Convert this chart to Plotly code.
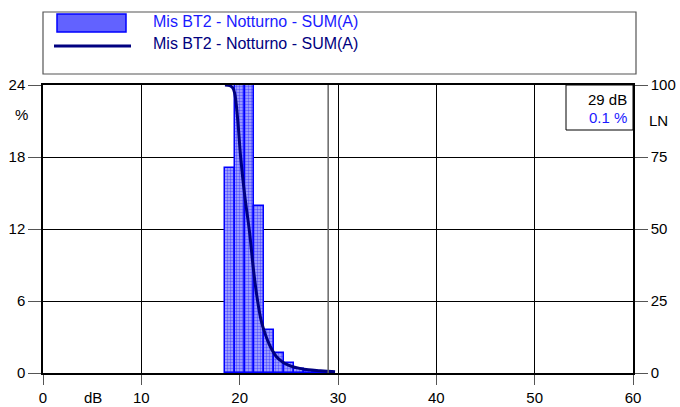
import plotly.graph_objects as go

# ---- data ----
bar_db = [19, 20, 21, 22, 23, 24, 25, 26, 27, 28, 29]
bar_pct = [17.1, 33.0, 29.0, 13.9, 3.6, 1.7, 0.8, 0.35, 0.15, 0.1, 0.05]

curve_db = [18.5, 19.0, 19.3, 19.5, 19.8, 20.1, 20.5, 21.0, 21.4, 21.8, 22.2,
            22.6, 23.0, 23.3, 23.7, 24.2, 24.6, 25.2, 26.1, 27.0, 28.2, 29.0, 29.7]
curve_ln = [100, 99.8, 99, 97, 88, 75, 62, 49, 36, 25.5, 18,
            13.5, 10, 8, 5.8, 4.2, 3.3, 2.4, 1.6, 1.1, 0.8, 0.6, 0.4]

x_ticks = [0, 10, 20, 30, 40, 50, 60]
y_ticks = [0, 6, 12, 18, 24]
y2_ticks = [0, 25, 50, 75, 100]

series_name = "Mis BT2 - Notturno - SUM(A)"
marker_db = 29
marker_pct = "0.1 %"

W, H = 680, 407
L, R, T, B = 43, 47, 85, 34
PW, PH = W - L - R, H - T - B


def px(x):
    return (x - L) / PW


def py(y):
    return (H - B - y) / PH


FONT = "Liberation Sans, Arial, sans-serif"
TF = 15
LF = 16

fig = go.Figure()
fig.add_bar(
    x=bar_db, y=bar_pct, width=1, name=series_name,
    marker=dict(
        color="#5c5cff",
        line=dict(color="#0000ff", width=1.5),
        pattern=dict(shape=".", fgcolor="#0000ff", bgcolor="#b0b0ff", size=3, solidity=0.5),
    ),
)
fig.add_scatter(
    x=curve_db, y=curve_ln, yaxis="y2", mode="lines", name=series_name,
    line=dict(color="#000080", width=3, shape="spline"),
)

shapes = [
    dict(type="line", xref="x", yref="paper", x0=marker_db, x1=marker_db, y0=0, y1=1,
         line=dict(color="#666666", width=1.5), layer="above"),
    dict(type="rect", xref="paper", yref="paper", x0=px(566), x1=1, y0=py(130), y1=1,
         line=dict(color="#000000", width=1), fillcolor="white", layer="above"),
    dict(type="rect", xref="paper", yref="paper", x0=px(43), x1=px(636), y0=py(74), y1=py(12),
         line=dict(color="#555555", width=1.2), fillcolor="white"),
    dict(type="rect", xref="paper", yref="paper", x0=px(57), x1=px(126), y0=py(32), y1=py(14),
         line=dict(color="#0000ff", width=1.5), fillcolor="#6262ff"),
    dict(type="line", xref="paper", yref="paper", x0=px(54), x1=px(131), y0=py(46), y1=py(46),
         line=dict(color="#000080", width=3)),
]

annotations = [
    dict(text=series_name, xref="paper", yref="paper", x=px(151), y=py(21.5), xanchor="left",
         yanchor="middle", showarrow=False, font=dict(family=FONT, size=LF, color="#1a1aff")),
    dict(text=series_name, xref="paper", yref="paper", x=px(151), y=py(44), xanchor="left",
         yanchor="middle", showarrow=False, font=dict(family=FONT, size=LF, color="#000080")),
    dict(text=f"{marker_db} dB", xref="paper", yref="paper", x=px(629), y=py(99), xanchor="right",
         yanchor="middle", showarrow=False, font=dict(family=FONT, size=TF, color="#000000")),
    dict(text=marker_pct, xref="paper", yref="paper", x=px(629), y=py(117), xanchor="right",
         yanchor="middle", showarrow=False, font=dict(family=FONT, size=TF, color="#1a1aff")),
    dict(text="%", xref="paper", yref="paper", x=px(21), y=py(114), xanchor="center",
         yanchor="middle", showarrow=False, font=dict(family=FONT, size=TF, color="#000000")),
    dict(text="LN", xref="paper", yref="paper", x=px(658), y=py(120), xanchor="center",
         yanchor="middle", showarrow=False, font=dict(family=FONT, size=TF, color="#000000")),
    dict(text="dB", xref="paper", yref="paper", x=px(92.5), y=py(397), xanchor="center",
         yanchor="middle", showarrow=False, font=dict(family=FONT, size=TF, color="#000000")),
]

fig.update_layout(
    width=W, height=H,
    margin=dict(l=L, r=R, t=T, b=B, pad=0, autoexpand=False),
    paper_bgcolor="white", plot_bgcolor="white",
    showlegend=False,
    bargap=0,
    font=dict(family=FONT, size=TF, color="#000000"),
    shapes=shapes,
    annotations=annotations,
    xaxis=dict(range=[0, 60], tickvals=x_ticks, ticks="outside", ticklen=10, tickcolor="#555555",
               showgrid=True, gridcolor="#000000", gridwidth=1, showline=True, linecolor="#000000",
               linewidth=1.5, mirror=True, zeroline=False, tickfont=dict(size=TF), automargin=False),
    yaxis=dict(range=[0, 24], tickvals=y_ticks, ticks="outside", ticklen=13, tickcolor="#555555",
               showgrid=True, gridcolor="#000000", gridwidth=1, showline=True, linecolor="#000000",
               linewidth=1.5, mirror=True, zeroline=False, tickfont=dict(size=TF), automargin=False),
    yaxis2=dict(range=[0, 100], tickvals=y2_ticks, overlaying="y", side="right", ticks="outside",
                ticklen=13, tickcolor="#555555", showgrid=False, showline=True,
                linecolor="#000000", linewidth=1.5, zeroline=False, tickfont=dict(size=TF),
                automargin=False),
)

fig.write_html(
    "out.html",
    config={"displayModeBar": False},
    post_script="document.body.style.margin='0px';document.body.style.overflow='hidden';",
)
